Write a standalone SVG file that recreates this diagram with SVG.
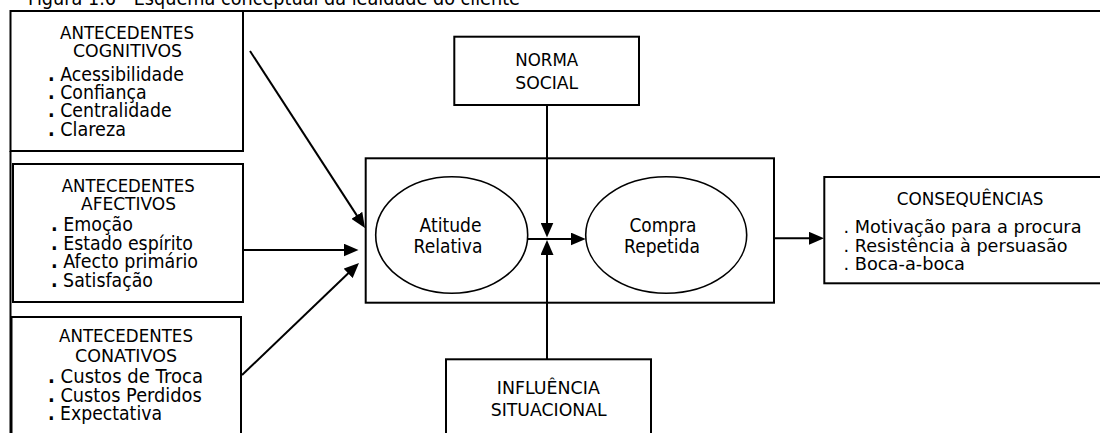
<svg xmlns="http://www.w3.org/2000/svg" width="1100" height="433" viewBox="0 0 1100 433">
  <style>
    .box { fill: #fff; stroke: #000; stroke-width: 2; }
    .ell { fill: #fff; stroke: #000; stroke-width: 1.6; }
    .frame { fill: none; stroke: #000; stroke-width: 2; }
    .wire { fill: none; stroke: #000; stroke-width: 2; }
    text { font-family: "DejaVu Sans", "Liberation Sans", sans-serif; fill: #000; }
    .hd { font-size: 18.5px; text-anchor: middle; }
    .it { font-size: 20px; }
    .md { font-size: 19.5px; text-anchor: middle; }
    .chd { font-size: 17px; text-anchor: middle; }
    .cit { font-size: 17.5px; }
    .b { font-weight: bold; }
  </style>
  <defs>
    <marker id="arrow" viewBox="0 0 15 13" markerWidth="15" markerHeight="13" refX="11" refY="6.5" orient="auto" markerUnits="userSpaceOnUse">
      <path d="M0,0 L15,6.5 L0,13 z" fill="#000"/>
    </marker>
  </defs>

  <rect width="1100" height="433" fill="#fff"/>

  <!-- caption, partially above the page edge -->
  <text x="28" y="5" font-size="19" textLength="492" lengthAdjust="spacingAndGlyphs">Figura 1.6 - Esquema conceptual da lealdade do cliente</text>

  <!-- page frame lines -->
  <g id="frame">
    <line class="frame" x1="243" y1="11" x2="1100" y2="11"/>
    <line class="frame" x1="10.5" y1="151" x2="10.5" y2="433"/>
  </g>

  <g id="antecedentes-cognitivos">
    <rect class="box" x="10.5" y="11" width="232.5" height="140"/>
    <text class="hd" x="127" y="38.5" textLength="134" lengthAdjust="spacingAndGlyphs">ANTECEDENTES</text>
    <text class="hd" x="127.5" y="57.3" textLength="109" lengthAdjust="spacingAndGlyphs">COGNITIVOS</text>
    <text class="it" x="48" y="81" textLength="136" lengthAdjust="spacingAndGlyphs"><tspan class="b">.</tspan> Acessibilidade</text>
    <text class="it" x="48" y="99" textLength="98.7" lengthAdjust="spacingAndGlyphs"><tspan class="b">.</tspan> Confiança</text>
    <text class="it" x="48" y="117" textLength="123.7" lengthAdjust="spacingAndGlyphs"><tspan class="b">.</tspan> Centralidade</text>
    <text class="it" x="48" y="136" textLength="78" lengthAdjust="spacingAndGlyphs"><tspan class="b">.</tspan> Clareza</text>
  </g>

  <g id="antecedentes-afectivos">
    <rect class="box" x="13" y="164" width="230" height="138"/>
    <text class="hd" x="128.3" y="191.7" textLength="133" lengthAdjust="spacingAndGlyphs">ANTECEDENTES</text>
    <text class="hd" x="128.5" y="210" textLength="95" lengthAdjust="spacingAndGlyphs">AFECTIVOS</text>
    <text class="it" x="51" y="231" textLength="82" lengthAdjust="spacingAndGlyphs"><tspan class="b">.</tspan> Emoção</text>
    <text class="it" x="51" y="250" textLength="142" lengthAdjust="spacingAndGlyphs"><tspan class="b">.</tspan> Estado espírito</text>
    <text class="it" x="51" y="268.3" textLength="147" lengthAdjust="spacingAndGlyphs"><tspan class="b">.</tspan> Afecto primário</text>
    <text class="it" x="51" y="286.7" textLength="102" lengthAdjust="spacingAndGlyphs"><tspan class="b">.</tspan> Satisfação</text>
  </g>

  <g id="antecedentes-conativos">
    <rect class="box" x="11.5" y="317" width="229.5" height="130"/>
    <text class="hd" x="126" y="342.3" textLength="134" lengthAdjust="spacingAndGlyphs">ANTECEDENTES</text>
    <text class="hd" x="126" y="361.7" textLength="102" lengthAdjust="spacingAndGlyphs">CONATIVOS</text>
    <text class="it" x="48" y="383.3" textLength="155" lengthAdjust="spacingAndGlyphs"><tspan class="b">.</tspan> Custos de Troca</text>
    <text class="it" x="48" y="401.7" textLength="153.7" lengthAdjust="spacingAndGlyphs"><tspan class="b">.</tspan> Custos Perdidos</text>
    <text class="it" x="48" y="420" textLength="114" lengthAdjust="spacingAndGlyphs"><tspan class="b">.</tspan> Expectativa</text>
  </g>

  <g id="norma-social">
    <rect class="box" x="454.3" y="36.7" width="184.7" height="68.3"/>
    <text class="hd" x="546.7" y="65.7" textLength="63" lengthAdjust="spacingAndGlyphs">NORMA</text>
    <text class="hd" x="546.7" y="89.3" textLength="63" lengthAdjust="spacingAndGlyphs">SOCIAL</text>
  </g>

  <g id="lealdade">
    <rect class="box" x="365.7" y="158.3" width="408.3" height="144.4"/>
  </g>

  <g id="atitude-relativa">
    <ellipse class="ell" cx="451.7" cy="235" rx="76" ry="58.3"/>
    <text class="md" x="450.5" y="231.7" textLength="62" lengthAdjust="spacingAndGlyphs">Atitude</text>
    <text class="md" x="448" y="253.3" textLength="69" lengthAdjust="spacingAndGlyphs">Relativa</text>
  </g>

  <g id="compra-repetida">
    <ellipse class="ell" cx="666.2" cy="235" rx="80.5" ry="58.3"/>
    <text class="md" x="663" y="231.7" textLength="67" lengthAdjust="spacingAndGlyphs">Compra</text>
    <text class="md" x="662" y="253.3" textLength="76" lengthAdjust="spacingAndGlyphs">Repetida</text>
  </g>

  <g id="consequencias">
    <rect class="box" x="824.3" y="177" width="300" height="106.3"/>
    <text class="chd" x="970" y="205" textLength="146.7" lengthAdjust="spacingAndGlyphs">CONSEQUÊNCIAS</text>
    <text class="cit" x="843.5" y="233.3" textLength="238" lengthAdjust="spacingAndGlyphs">. Motivação para a procura</text>
    <text class="cit" x="843.5" y="251.7" textLength="224" lengthAdjust="spacingAndGlyphs">. Resistência à persuasão</text>
    <text class="cit" x="843.5" y="270" textLength="121.5" lengthAdjust="spacingAndGlyphs">. Boca-a-boca</text>
  </g>

  <g id="influencia-situacional">
    <rect class="box" x="446" y="359.3" width="205" height="90"/>
    <text class="hd" x="548.3" y="394" textLength="103" lengthAdjust="spacingAndGlyphs">INFLUÊNCIA</text>
    <text class="hd" x="548.7" y="416" textLength="116" lengthAdjust="spacingAndGlyphs">SITUACIONAL</text>
  </g>

  <g id="connectors">
    <line class="wire" x1="250" y1="51" x2="362.8" y2="224.6" marker-end="url(#arrow)"/>
    <line class="wire" x1="243" y1="250" x2="354.5" y2="250" marker-end="url(#arrow)"/>
    <line class="wire" x1="242" y1="375" x2="356.1" y2="265.8" marker-end="url(#arrow)"/>
    <line class="wire" x1="547" y1="105" x2="547" y2="233.5" marker-end="url(#arrow)"/>
    <line class="wire" x1="547" y1="359.3" x2="547" y2="244" marker-end="url(#arrow)"/>
    <line class="wire" x1="527.7" y1="239" x2="581.7" y2="239" marker-end="url(#arrow)"/>
    <line class="wire" x1="774" y1="238.3" x2="820" y2="238.3" marker-end="url(#arrow)"/>
  </g>
</svg>
